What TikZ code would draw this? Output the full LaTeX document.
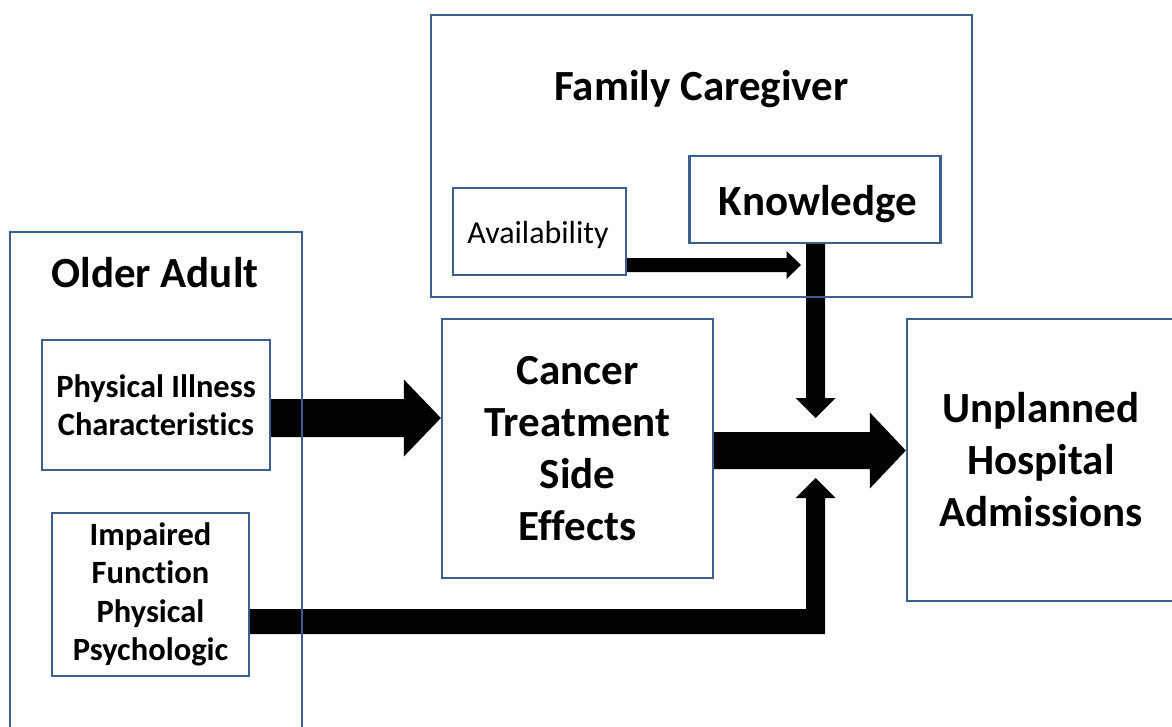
\documentclass[tikz,border=0pt]{standalone}
\usepackage{fontspec}
\setmainfont[Ligatures=NoCommon]{Carlito}
\usetikzlibrary{calc,backgrounds}
\definecolor{boxblue}{RGB}{60,96,142}
\tikzset{
  box/.style={draw=boxblue, line width=2.3pt, inner sep=0pt, align=center},
  bigtxt/.style={font=\fontsize{43}{52}\selectfont\bfseries},
  midtxt/.style={font=\fontsize{32.5}{38.5}\selectfont\bfseries},
  smalltxt/.style={font=\fontsize{32}{36}\selectfont},
  title/.style={inner sep=0pt, anchor=base, font=\fontsize{43}{52}\selectfont\bfseries},
  arrowfill/.style={fill=black}
}
\newcommand\myharrow[5]{%
  \fill[arrowfill] ($(#1)+(0,-#3)$) -- ($(#2)+(-#4,-#3)$) -- ($(#2)+(-#4,-#5)$) -- (#2)
    -- ($(#2)+(-#4,#5)$) -- ($(#2)+(-#4,#3)$) -- ($(#1)+(0,#3)$) -- cycle;}
\begin{document}
\begin{tikzpicture}[x=1pt,y=-1pt]
\useasboundingbox (0,0) rectangle (1172,726);
\clip (0,0) rectangle (1172,726);

% boxes
\node[box, minimum width=541pt, minimum height=282pt] (fam) at (701.5,156) {};
\node[title] (famt) at (701.5,100) {Family Caregiver};
\node[box, minimum width=173pt, minimum height=87pt] (avail) at (539.5,231.5) {};
\node[smalltxt, inner sep=0pt, anchor=base] (availt) at (538,243) {Availability};
\node[box, minimum width=251pt, minimum height=87pt] (know) at (815,199.5) {};
\node[title] (knowt) at (818,215) {Knowledge};

\node[box, minimum width=292pt, minimum height=520pt] (older) at (156,492) {};
\node[title] (oldert) at (155,287) {Older Adult};
\node[box, midtxt, minimum width=228pt, minimum height=130pt] (phys) at (156,405) {Physical Illness\\Characteristics};
\node[box, midtxt, minimum width=197pt, minimum height=163pt] (imp) at (150.5,594.5) {Impaired\\Function\\Physical\\Psychologic};

\node[box, bigtxt, minimum width=271pt, minimum height=259pt] (cancer) at (577.5,448.5) {Cancer\\Treatment\\Side\\Effects};
\node[box, bigtxt, minimum width=268pt, minimum height=282pt] (unpl) at (1041,460) {Unplanned\\Hospital\\Admissions};

% helper coordinates
\coordinate (a1s) at ($(phys.east)+(0,13)$);
\coordinate (a1e) at (cancer.west |- a1s);
\coordinate (a2s) at ($(cancer.east)+(0,2)$);
\coordinate (a2e) at ($(unpl.west |- a2s)+(0,0)$);
\coordinate (kx) at ($(know.south)+(0.5,0)$);
\coordinate (kt) at ($(kx |- a2s)+(0,-32.5)$);
\coordinate (ut) at ($(kx |- a2s)+(0,27.5)$);
\coordinate (avs) at ($(avail.east)+(0,33.5)$);
\coordinate (ave) at ($(kx |- avs)+(-14.5,0)$);
\coordinate (is) at ($(imp.east)+(0,27)$);

\begin{scope}[on background layer]
  \fill[white] (0,0) rectangle (1172,726);
  \myharrow{a1s}{a1e}{19}{37}{38.5}
  \myharrow{a2s}{a2e}{18.5}{36}{38}
  \myharrow{avs}{ave}{7}{14.5}{14}
  % down arrow from Knowledge
  \fill[arrowfill] ($(kx)+(-9.5,0)$) -- ($(kt)+(-9.5,-20)$) -- ($(kt)+(-20,-20)$) -- (kt)
    -- ($(kt)+(20,-20)$) -- ($(kt)+(9.5,-20)$) -- ($(kx)+(9.5,0)$) -- cycle;
  % bent arrow from Impaired Function
  \fill[arrowfill] ($(is)+(0,-12.5)$) -- ($(ut |- is)+(-9.5,-12.5)$) -- ($(ut)+(-9.5,20)$)
    -- ($(ut)+(-20,20)$) -- (ut) -- ($(ut)+(20,20)$) -- ($(ut)+(9.5,20)$)
    -- ($(ut |- is)+(9.5,12.5)$) -- ($(is)+(0,12.5)$) -- cycle;
\end{scope}
\end{tikzpicture}
\end{document}
